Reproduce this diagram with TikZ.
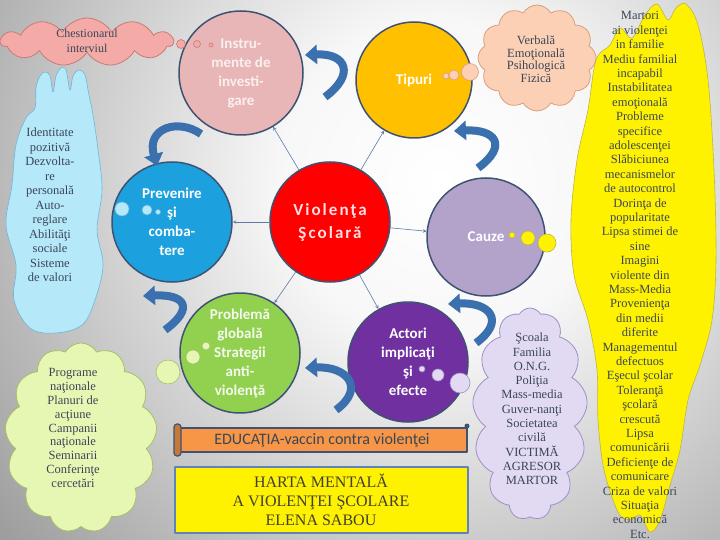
\documentclass[tikz,border=0pt]{standalone}
\usepackage{fontspec}
\setmainfont{Liberation Serif}
\setsansfont{Carlito}
\newfontfamily\titlefont{Carlito}[LetterSpace=12]
\usetikzlibrary{shapes.symbols,arrows.meta}
\definecolor{rimblue}{HTML}{3E5272}
\definecolor{linkblue}{HTML}{5B7BA6}
\definecolor{arrowblue}{HTML}{3B70AE}
\definecolor{cloudink}{HTML}{3A4658}
\definecolor{rose}{HTML}{E8B6B6}
\definecolor{amber}{HTML}{FFC000}
\definecolor{lilac}{HTML}{B3A3CB}
\definecolor{violet}{HTML}{7030A0}
\definecolor{grass}{HTML}{92D050}
\definecolor{sky}{HTML}{1DA0DE}
\definecolor{pinkcl}{HTML}{F4AAA6}
\definecolor{pinkln}{HTML}{C77B77}
\definecolor{peachcl}{HTML}{FBD0B4}
\definecolor{peachln}{HTML}{D8A080}
\definecolor{lavcl}{HTML}{E2DAF2}
\definecolor{lavln}{HTML}{9F8FC4}
\definecolor{greencl}{HTML}{E6F7B4}
\definecolor{greenln}{HTML}{A5C069}
\definecolor{skycl}{HTML}{B5E9FA}
\definecolor{skyln}{HTML}{6CB8D8}
\definecolor{bannerorange}{HTML}{F79646}
\definecolor{boxblue}{HTML}{5F84B8}
\definecolor{boxink}{HTML}{404030}
\pgfdeclareradialshading{paper}{\pgfpoint{0bp}{0bp}}{color(0bp)=(white); color(8bp)=(white!97!black); color(18bp)=(white!80!black); color(28bp)=(white!62!black); color(50bp)=(white!52!black)}
\begin{document}
\begin{tikzpicture}[x=1pt,y=-1pt,>=stealth,line join=round]
    \tikzset{topic/.style={circle,draw=rimblue,line width=1.5pt,minimum size=120pt,inner sep=0pt,align=center,text=white,font=\sffamily\bfseries\fontsize{15}{19}\selectfont},
        cloudtext/.style={align=center,inner sep=0pt,text=cloudink,font=\fontsize{12.5}{14.4}\selectfont},
        puff/.style={cloud,cloud puffs=#1,cloud puff arc=120,cloud ignores aspect,line width=0.8pt},
        link/.style={->,draw=linkblue,line width=0.6pt},
        turnarrow/.style={draw=arrowblue,line width=8pt,-{Triangle[length=12pt,width=19pt]}}}
    \useasboundingbox (0,0) rectangle (720,540);
    \clip (0,0) rectangle (720,540);
    \shade[shading=paper] (-60,-320) rectangle (940,680);
    % clouds
    \draw[fill=yellow,draw=olive!60,line width=0.6pt] plot[smooth cycle,tension=0.55] coordinates {(618,512) (604,470) (598,420) (597,370) (588,320) (574,275) (571,220) (577,160) (588,110) (596,60) (610,45) (620,28) (632,38) (645,15) (657,4) (668,20) (676,8) (686,4) (698,25) (708,80) (714,170) (716,260) (712,320) (700,365) (688,400) (680,450) (670,485) (660,520) (650,532) (640,515) (630,520)};
    \draw[fill=skycl,draw=skyln,line width=0.6pt] plot[smooth cycle,tension=0.6] coordinates {(55,333) (30,328) (14,300) (16,265) (6,225) (12,185) (16,145) (26,118) (35,108) (36,88) (40,76) (45,72) (50,76) (53,92) (56,76) (61,68) (66,70) (70,90) (73,76) (79,70) (85,75) (88,90) (93,115) (98,150) (102,190) (97,230) (103,265) (95,300) (82,325)};
    \node[puff=11,fill=pinkcl,draw=pinkln,minimum width=172pt,minimum height=48pt] (chestcloud) at (87,42) {};
    \node[puff=12,fill=peachcl,draw=peachln,minimum width=118pt,minimum height=106pt] (tipcloud) at (537,58) {};
    \node[puff=13,fill=lavcl,draw=lavln,minimum width=115pt,minimum height=212pt] (actcloud) at (530,414) {};
    \node[puff=13,fill=greencl,draw=greenln,minimum width=152pt,minimum height=190pt] (progcloud) at (81,438) {};
    \node[cloudtext,font=\fontsize{12}{15}\selectfont] (chest) at (87,41) {Chestionarul\\interviul};
    \node[cloudtext,font=\fontsize{12.5}{12.5}\selectfont] (forme) at (536,59) {Verbală\\Emoţională\\Psihologică\\Fizică};
    \node[cloudtext] (cauzetxt) at (640,275) {Martori\\ai violenţei\\in familie\\Mediu familial\\incapabil\\Instabilitatea\\emoţională\\Probleme\\specifice\\adolescenţei\\Slăbiciunea\\mecanismelor\\de autocontrol\\Dorinţa de\\popularitate\\Lipsa stimei de\\sine\\Imagini\\violente din\\Mass-Media\\Provenienţa\\din medii\\diferite\\Managementul\\defectuos\\Eşecul şcolar\\Toleranţă\\şcolară\\crescută\\Lipsa\\comunicării\\Deficienţe de\\comunicare\\Criza de valori\\Situaţia\\economică\\Etc.};
    \node[cloudtext,font=\fontsize{12.5}{14.5}\selectfont] (prevtxt) at (50,205) {Identitate\\pozitivă\\Dezvolta-\\re\\personală\\Auto-\\reglare\\Abilităţi\\sociale\\Sisteme\\de valori};
    \node[cloudtext,font=\fontsize{12.5}{13.8}\selectfont] (progtxt) at (73,428) {Programe\\naţionale\\Planuri de\\acţiune\\Campanii\\naţionale\\Seminarii\\Conferinţe\\cercetări};
    \node[cloudtext,font=\fontsize{12.5}{14.3}\selectfont] (acttxt) at (532,409) {Şcoala\\Familia\\O.N.G.\\Poliţia\\Mass-media\\Guver-nanţi\\Societatea\\civilă\\VICTIMĂ\\AGRESOR\\MARTOR};
    % circles
    \node[topic,fill=rose,minimum size=124pt,text=rose!20] (instr) at (241,73) {Instru-\\mente de\\investi-\\gare};
    \node[topic,fill=amber,minimum size=116pt] (tipuri) at (414,80) {Tipuri};
    \node[topic,fill=red,text=red!12,font=\titlefont\bfseries\fontsize{17}{23}\selectfont] (viol) at (330,222) {Violenţa\\Şcolară};
    \node[topic,fill=lilac,minimum size=118pt] (cauze) at (486,237) {Cauze};
    \node[topic,fill=violet] (actori) at (408,362) {Actori\\implicaţi\\şi\\efecte};
    \node[topic,fill=grass,text=grass!10] (problema) at (240,353) {Problemă\\globală\\Strategii\\anti-\\violenţă};
    \node[topic,fill=sky] (prevenire) at (172,222) {Prevenire\\şi\\comba-\\tere};
    \foreach \t in {instr,tipuri,cauze,actori,problema,prevenire}
    \draw[link] (viol) -- (\t);
    % thought bubbles
    \foreach \x/\y/\r/\c/\d in {181/44/4.5/pinkcl/pinkln,197/44/3.5/pinkcl/pinkln,211/45/2/pinkcl/pinkln,
        446/76/3/peachcl/peachln,454/75/5/peachcl/peachln,470/72/8.5/peachcl/peachln,
        512/235/3/yellow/olive!60,528/238/7/yellow/olive!60,547/243/9/yellow/olive!60,
        422/369/3/lavcl/lavln,438/375/6/lavcl/lavln,460/383/10/lavcl/lavln,
        206/346/4/greencl/greenln,193/357/7/greencl/greenln,168/372/12/greencl/greenln,
        122/209/7/skycl/skyln,147/210/5/skycl/skyln,158/212/2.5/skycl/skyln}
    \draw[fill=\c,draw=\d,line width=0.6pt] (\x,\y) circle[radius=\r pt];
    % curved arrows
    \foreach \x/\y/\dx/\dy in {325/97/-20/-42,478/168/-24/-37,476/343/-28/-39,336/410/-31/-42,165/330/-22/-34}
    \draw[turnarrow] (\x,\y) .. controls +(30,-22) and +(42,-2) .. +(\dx,\dy);
    \draw[turnarrow] (201,134) .. controls (178,118) and (146,128) .. (157,166);
    % banner and title
    \draw[fill=bannerorange,draw=rimblue,line width=1.2pt] (178,428) rectangle (467,452);
    \draw[fill=bannerorange!80!black,draw=rimblue,line width=1.2pt,rounded corners=3pt] (174,424) rectangle (181,456);
    \fill[rimblue] (467,426) circle[radius=2.5pt];
    \node[font=\sffamily\fontsize{16}{19}\selectfont,text=cloudink] (educ) at (322,440) {EDUCAŢIA-vaccin contra violenţei};
    \node[draw=boxblue,line width=2pt,fill=yellow,minimum width=293pt,minimum height=66pt,align=center,text=boxink,font=\fontsize{16}{19}\selectfont] (harta) at (321,500) {HARTA MENTALĂ\\A VIOLENŢEI ŞCOLARE\\ELENA SABOU};
\end{tikzpicture}
\end{document}
